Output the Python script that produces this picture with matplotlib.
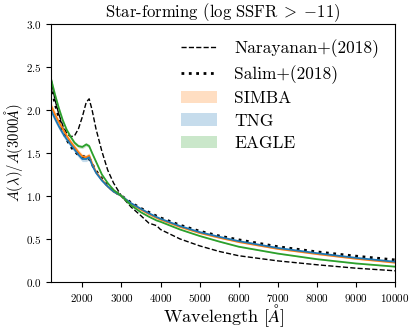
import matplotlib
matplotlib.use("Agg")
import matplotlib.pyplot as plt

plt.rcParams['font.family'] = 'serif'
plt.rcParams['font.serif'] = ['cmr10']
plt.rcParams['mathtext.fontset'] = 'cm'
plt.rcParams['axes.formatter.use_mathtext'] = True

# wavelength grid [Angstrom]
wave = [1200, 1300, 1400, 1500, 1600, 1700, 1800, 1900, 2000, 2100, 2175, 2250,
        2350, 2500, 2650, 2800, 3000, 3250, 3500, 3700, 3900, 4000, 4500, 5000,
        5500, 6000, 7000, 8000, 9000, 10000]

narayanan = [2.36, 2.12, 1.95, 1.82, 1.73, 1.69, 1.70, 1.78, 1.92, 2.09, 2.13, 2.00,
             1.78, 1.52, 1.30, 1.15, 1.00, 0.87, 0.77, 0.685, 0.655, 0.61, 0.50, 0.42,
             0.355, 0.305, 0.245, 0.20, 0.16, 0.13]
salim = [2.30, 2.08, 1.92, 1.76, 1.66, 1.58, 1.52, 1.48, 1.46, 1.45, 1.44, 1.37,
         1.29, 1.20, 1.12, 1.06, 1.00, 0.92, 0.855, 0.81, 0.765, 0.745, 0.66, 0.59,
         0.535, 0.49, 0.41, 0.35, 0.30, 0.256]
simba = [2.05, 1.95, 1.86, 1.78, 1.70, 1.63, 1.57, 1.51, 1.46, 1.45, 1.47, 1.38,
         1.28, 1.19, 1.11, 1.05, 1.00, 0.91, 0.84, 0.79, 0.745, 0.725, 0.64, 0.57,
         0.515, 0.465, 0.385, 0.325, 0.27, 0.225]
tng = [2.00, 1.90, 1.81, 1.73, 1.66, 1.60, 1.54, 1.48, 1.43, 1.43, 1.45, 1.36,
       1.27, 1.18, 1.11, 1.05, 1.00, 0.915, 0.85, 0.80, 0.755, 0.735, 0.65, 0.58,
       0.525, 0.475, 0.395, 0.335, 0.28, 0.235]
eagle = [2.36, 2.18, 2.02, 1.88, 1.77, 1.69, 1.62, 1.58, 1.57, 1.60, 1.58, 1.50,
         1.40, 1.25, 1.15, 1.07, 1.00, 0.89, 0.81, 0.76, 0.715, 0.70, 0.61, 0.535,
         0.47, 0.41, 0.33, 0.265, 0.215, 0.178]

# half-widths of the shaded bands
simba_err = [0.04, 0.04, 0.035, 0.035, 0.03, 0.03, 0.03, 0.03, 0.03, 0.03, 0.03, 0.025,
             0.02, 0.015, 0.01, 0.005, 0.0, 0.005, 0.008, 0.008, 0.008, 0.008, 0.008, 0.008,
             0.008, 0.008, 0.008, 0.008, 0.008, 0.008]
tng_err = simba_err
eagle_err = [0.03, 0.03, 0.025, 0.025, 0.02, 0.02, 0.02, 0.02, 0.02, 0.02, 0.02, 0.015,
             0.01, 0.01, 0.005, 0.005, 0.0, 0.003, 0.004, 0.004, 0.004, 0.004, 0.004, 0.004,
             0.004, 0.004, 0.004, 0.004, 0.004, 0.004]

fig = plt.figure(figsize=(4.15, 3.29), dpi=100)
ax = fig.add_axes([0.123, 0.143, 0.829, 0.784])

ax.plot(wave, narayanan, 'k--', lw=1.0, label='Narayanan+(2018)')
ax.plot(wave, salim, 'k:', lw=2.0, label='Salim+(2018)')

for vals, err, col, name in [(simba, simba_err, 'C1', 'SIMBA'),
                             (tng, tng_err, 'C0', 'TNG'),
                             (eagle, eagle_err, 'C2', 'EAGLE')]:
    lo = [v - e for v, e in zip(vals, err)]
    hi = [v + e for v, e in zip(vals, err)]
    ax.plot(wave, vals, color=col, lw=1.3)
    ax.fill_between(wave, lo, hi, color=col, alpha=0.25, lw=0, label=name)

ax.set_xlim(1200, 10000)
ax.set_ylim(0, 3.0)
ax.set_xticks(range(2000, 10001, 1000))
ax.set_yticks([0.0, 0.5, 1.0, 1.5, 2.0, 2.5, 3.0])
ax.tick_params(labelsize=8)

ax.set_xlabel(r'Wavelength [$\AA$]', fontsize=13)
ax.set_ylabel(r'$A(\lambda)/A(3000\AA)$', fontsize=10.5)
ax.xaxis.set_label_coords(0.5, -0.08)
ax.yaxis.set_label_coords(-0.076, 0.5)
ax.set_title(r'Star-forming ($\log\,\mathrm{SSFR}\;>\;{-11}$)', fontsize=12, pad=3)

ax.legend(loc='upper right', frameon=False, fontsize=12.5, handlelength=2.1,
          handletextpad=1.0, labelspacing=0.4, bbox_to_anchor=(1.0, 1.0))

fig.savefig('out.png', dpi=100)
